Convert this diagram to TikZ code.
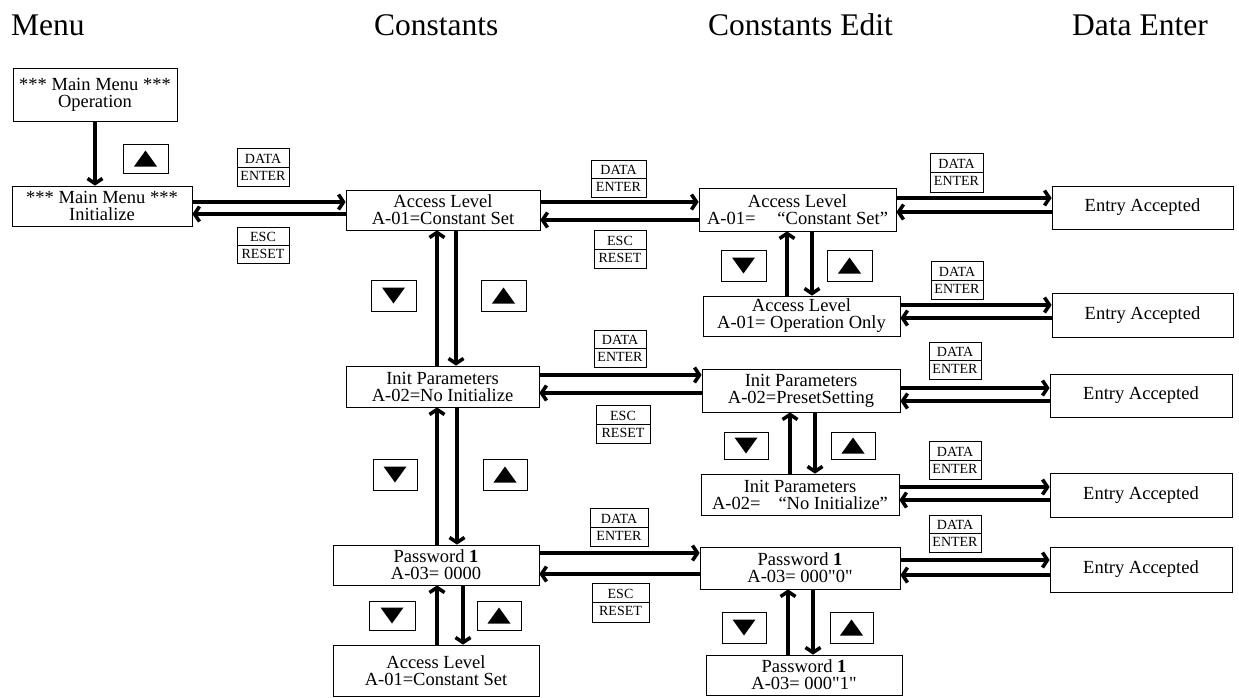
\documentclass[tikz,border=0pt]{standalone}
\usepackage{fontspec}
\setmainfont{Liberation Serif}
\newfontfamily\rawserif[Ligatures=ResetAll]{Liberation Serif}
\usetikzlibrary{arrows.meta}
\newcommand\boxf{\fontsize{18.5}{17}\selectfont}
\newcommand\hdrf{\fontsize{31.5}{36}\selectfont}
\newcommand\keyf{\fontsize{14}{17}\selectfont}
\newcommand\sq{{\rawserif\symbol{34}}}
\tikzset{
  box/.style={draw,line width=0.8pt,inner sep=0pt,align=center,font=\boxf},
  hdr/.style={font=\hdrf,anchor=base west,inner sep=0pt},
  dkey/.style={draw,line width=0.8pt,inner sep=0pt,align=center,font=\keyf,
    path picture={\draw[line width=0.8pt] (path picture bounding box.west) -- (path picture bounding box.east);}},
  upkey/.style={draw,line width=0.8pt,inner sep=0pt,
    path picture={\fill ([shift={(-11.5pt,-8pt)}]path picture bounding box.center) -- ++(23pt,0pt) -- ++(-11.5pt,16pt) -- cycle;}},
  dnkey/.style={draw,line width=0.8pt,inner sep=0pt,
    path picture={\fill ([shift={(-11.5pt,8pt)}]path picture bounding box.center) -- ++(23pt,0pt) -- ++(-11.5pt,-16pt) -- cycle;}},
  arr/.style={line width=4.5pt,-{Straight Barb[length=5pt,width=15pt,line width=3.5pt]}}
}
\newcommand\bx[6]{\node[box,minimum width={(#4-#2)*1pt},minimum height={(#5-#3)*1pt}] (#1) at ({(#2+#4)/2},{(#3+#5)/2}) {#6};}
\newcommand\kde[5]{\node[dkey,minimum width={(#4-#2)*1pt},minimum height={(#5-#3)*1pt}] (#1) at ({(#2+#4)/2},{(#3+#5)/2}) {DATA\\ENTER};}
\newcommand\kesc[5]{\node[dkey,minimum width={(#4-#2)*1pt},minimum height={(#5-#3)*1pt}] (#1) at ({(#2+#4)/2},{(#3+#5)/2}) {ESC\\RESET};}
\newcommand\kup[5]{\node[upkey,minimum width={(#4-#2)*1pt},minimum height={(#5-#3)*1pt}] (#1) at ({(#2+#4)/2},{(#3+#5)/2}) {};}
\newcommand\kdn[5]{\node[dnkey,minimum width={(#4-#2)*1pt},minimum height={(#5-#3)*1pt}] (#1) at ({(#2+#4)/2},{(#3+#5)/2}) {};}
\begin{document}
\begin{tikzpicture}[x=1pt,y=-1pt]
\useasboundingbox (0,0) rectangle (1239,697);
% headers
\node[hdr] (h1) at (11,35) {Menu};
\node[hdr] (h2) at (374,35) {Constants};
\node[hdr] (h3) at (708,35) {Constants Edit};
\node[hdr] (h4) at (1072,35) {Data Enter};
% menu column
\bx{A}{13}{68}{177}{121}{*** Main Menu ***\\Operation}
\bx{B}{12}{186}{192}{226}{*** Main Menu ***\\Initialize}
\kup{kA}{123}{144}{168}{173}
\draw[arr] (A.south -| 95,0) -- (B.north -| 95,0);
\kde{d1}{237}{148}{289}{186}
\kesc{e1}{237}{227}{289}{263}
% constants column
\bx{C}{346}{190}{540}{230}{Access Level\\A-01=Constant Set}
\bx{F}{346}{366}{539}{407}{Init Parameters\\A-02=No Initialize}
\bx{P}{333}{545}{539}{585}{Password \textbf{1}\\A-03= 0000}
\bx{C2}{333}{645}{539}{696}{Access Level\\A-01=Constant Set}
\draw[arr] (B.east |- 0,202) -- (C.west |- 0,202);
\draw[arr] (C.west |- 0,214) -- (B.east |- 0,214);
\kdn{k1}{371}{280}{416}{311}
\kup{k2}{481}{280}{526}{311}
\draw[arr] (F.north -| 437,0) -- (C.south -| 437,0);
\draw[arr] (C.south -| 456,0) -- (F.north -| 456,0);
\kdn{k3}{373}{459}{417}{490}
\kup{k4}{483}{459}{527}{490}
\draw[arr] (P.north -| 437,0) -- (F.south -| 437,0);
\draw[arr] (F.south -| 457,0) -- (P.north -| 457,0);
\kdn{k5}{369}{601}{415}{630}
\kup{k6}{477}{601}{521}{630}
\draw[arr] (C2.north -| 437,0) -- (P.south -| 437,0);
\draw[arr] (P.south -| 463,0) -- (C2.north -| 463,0);
% keys between constants and edit
\kde{d2}{591}{160}{646}{197}
\kesc{e2}{594}{230}{646}{268}
\kde{d5}{594}{330}{646}{367}
\kesc{e5}{596}{405}{650}{443}
\kde{d8}{590}{508}{648}{546}
\kesc{e8}{592}{583}{649}{622}
% edit column
\bx{D}{699}{188}{896}{231}{Access Level\\A-01=\hspace{22pt}“Constant Set”}
\bx{D2}{703}{296}{900}{336}{Access Level\\A-01= Operation Only}
\bx{G}{702}{369}{900}{412}{Init Parameters\\A-02=PresetSetting}
\bx{G2}{701}{474}{899}{515}{Init Parameters\\A-02=\hspace{18pt}“No Initialize”}
\bx{Q}{700}{547}{900}{589}{Password \textbf{1}\\A-03= 000\sq0\sq}
\bx{Q2}{706}{655}{902}{695}{Password \textbf{1}\\A-03= 000\sq1\sq}
\draw[arr] (C.east |- 0,202) -- (D.west |- 0,202);
\draw[arr] (D.west |- 0,220) -- (C.east |- 0,220);
\draw[arr] (F.east |- 0,375) -- (G.west |- 0,375);
\draw[arr] (G.west |- 0,393) -- (F.east |- 0,393);
\draw[arr] (P.east |- 0,553) -- (Q.west |- 0,553);
\draw[arr] (Q.west |- 0,574) -- (P.east |- 0,574);
\kdn{k7}{721}{250}{766}{281}
\kup{k8}{827}{250}{872}{281}
\draw[arr] (D2.north -| 787,0) -- (D.south -| 787,0);
\draw[arr] (D.south -| 812,0) -- (D2.north -| 812,0);
\kdn{k9}{724}{432}{768}{459}
\kup{k10}{831}{432}{875}{459}
\draw[arr] (G2.north -| 790,0) -- (G.south -| 790,0);
\draw[arr] (G.south -| 815,0) -- (G2.north -| 815,0);
\kdn{k11}{722}{612}{766}{643}
\kup{k12}{830}{612}{873}{643}
\draw[arr] (Q2.north -| 788,0) -- (Q.south -| 788,0);
\draw[arr] (Q.south -| 813,0) -- (Q2.north -| 813,0);
% data enter column
\bx{E1}{1052}{186}{1233}{229}{Entry Accepted}
\bx{E2}{1052}{293}{1233}{337}{Entry Accepted}
\bx{E3}{1050}{374}{1232}{417}{Entry Accepted}
\bx{E4}{1050}{473}{1232}{517}{Entry Accepted}
\bx{E5}{1050}{547}{1232}{592}{Entry Accepted}
\kde{d3}{930}{153}{983}{192}
\kde{d4}{931}{261}{983}{299}
\kde{d6}{929}{342}{981}{379}
\kde{d7}{929}{441}{981}{479}
\kde{d9}{929}{515}{981}{552}
\draw[arr] (D.east |- 0,198) -- (E1.west |- 0,198);
\draw[arr] (E1.west |- 0,212) -- (D.east |- 0,212);
\draw[arr] (D2.east |- 0,305) -- (E2.west |- 0,305);
\draw[arr] (E2.west |- 0,318) -- (D2.east |- 0,318);
\draw[arr] (G.east |- 0,388) -- (E3.west |- 0,388);
\draw[arr] (E3.west |- 0,401) -- (G.east |- 0,401);
\draw[arr] (G2.east |- 0,487) -- (E4.west |- 0,487);
\draw[arr] (E4.west |- 0,500) -- (G2.east |- 0,500);
\draw[arr] (Q.east |- 0,560) -- (E5.west |- 0,560);
\draw[arr] (E5.west |- 0,575) -- (Q.east |- 0,575);
\end{tikzpicture}
\end{document}
